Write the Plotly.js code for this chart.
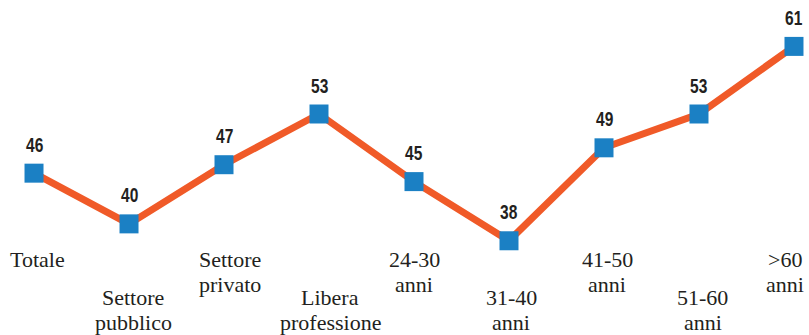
<!DOCTYPE html>
<html>
<head>
<meta charset="utf-8">
<script src="https://cdn.plot.ly/plotly-3.0.1.min.js"></script>
<style>
html,body{margin:0;padding:0;background:#fff;}
#chart{width:809px;height:335px;}
</style>
</head>
<body>
<div id="chart"></div>
<script>
const categories = ["Totale", "Settore<br>pubblico", "Settore<br>privato", "Libera<br>professione", "24-30<br>anni", "31-40<br>anni", "41-50<br>anni", "51-60<br>anni", ">60<br>anni"];
const values = [46, 40, 47, 53, 45, 38, 49, 53, 61];
const valueLabels = ["46", "40", "47", "53", "45", "38", "49", "53", "61"];

const W = 809, H = 335;
const idx = categories.map((_, i) => i);
const labelShift = [3, 4, 6, 11, 0, 2, 3, 4, -9];

const line = {
  x: idx, y: values, type: 'scatter', mode: 'lines',
  line: {color: '#f05a28', width: 7},
  hoverinfo: 'skip'
};
const marks = {
  x: idx, y: values, type: 'scatter', mode: 'markers',
  marker: {symbol: 'square', size: 19, color: '#1b80c4', line: {width: 0}},
  hoverinfo: 'skip'
};

const annotations = [];
values.forEach((v, i) => {
  annotations.push({
    x: i, y: v, xref: 'x', yref: 'y', text: valueLabels[i], showarrow: false,
    yshift: 29, yanchor: 'middle', xanchor: 'center',
    font: {family: 'Liberation Sans, DejaVu Sans, sans-serif', size: 21, color: '#231f20', weight: 'bold'}
  });
});
categories.forEach((c, i) => {
  const lines = c.split('<br>');
  const baseTop = (i % 2 === 0) ? 245 : 283;
  lines.forEach((t, k) => {
    const topPx = baseTop + k * 25;
    annotations.push({
      x: i, y: 1 - topPx / H, xref: 'x', yref: 'paper', text: t, showarrow: false,
      yanchor: 'top', xanchor: 'center', align: 'center',
      xshift: labelShift[i],
      font: {family: 'Liberation Serif, serif', size: 22, color: '#231f20'}
    });
  });
});

const layout = {
  width: W, height: H,
  margin: {l: 0, r: 0, t: 0, b: 0, pad: 0},
  paper_bgcolor: '#ffffff', plot_bgcolor: '#ffffff',
  showlegend: false,
  xaxis: {range: [-0.358, 8.158], visible: false, fixedrange: true},
  yaxis: {range: [26.85, 66.49], visible: false, fixedrange: true},
  annotations: annotations
};

Plotly.newPlot('chart', [line, marks], layout, {staticPlot: true, displayModeBar: false}).then(() => {
  // narrow (condensed look) for the value labels only
  values.forEach((_, i) => {
    const el = document.querySelector('#chart g.annotation[data-index="' + i + '"] text.annotation-text');
    if (!el) return;
    const b = el.getBBox();
    const cx = b.x + b.width / 2;
    const prev = el.getAttribute('transform') || '';
    el.setAttribute('transform', prev + ' translate(' + cx + ',0) scale(0.74,1) translate(' + (-cx) + ',0)');
  });
});
</script>
</body>
</html>
